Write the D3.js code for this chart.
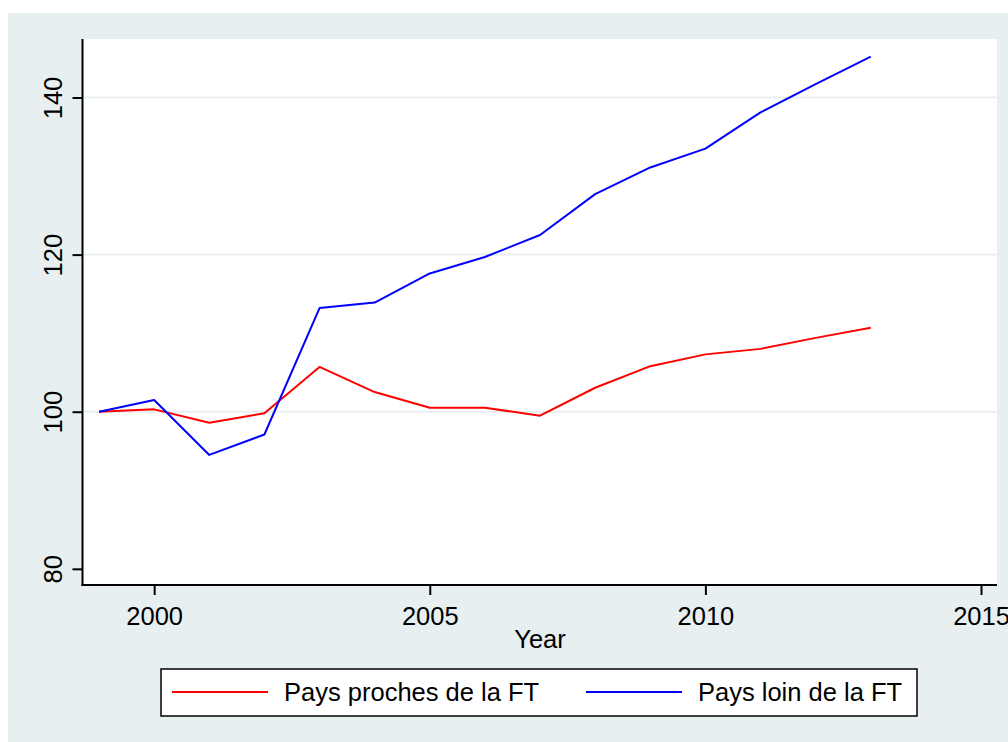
<!DOCTYPE html>
<html lang="fr">
<head>
    <meta charset="UTF-8">
    <title>Pays proches / loin de la FT</title>
    <script src="https://d3js.org/d3.v7.min.js"></script>
    <style>
        body { margin: 0; background: #ffffff; }
        text { font-family: "Liberation Sans", Arial, sans-serif; fill: #000; }
    </style>
</head>
<body>
    <script>
        // données
        const years = [1999, 2000, 2001, 2002, 2003, 2004, 2005, 2006, 2007, 2008, 2009, 2010, 2011, 2012, 2013];
        const proches = [100, 100.3, 98.6, 99.8, 105.7, 102.5, 100.5, 100.5, 99.5, 103.05, 105.8, 107.3, 108.0, 109.4, 110.7];
        const loin = [100, 101.5, 94.5, 97.1, 113.2, 113.9, 117.6, 119.7, 122.5, 127.7, 131.1, 133.5, 138.1, 141.7, 145.2];
        const xTicks = [2000, 2005, 2010, 2015];
        const yTicks = [80, 100, 120, 140];
        const gridTicks = [100, 120, 140];
        const seriesNames = ["Pays proches de la FT", "Pays loin de la FT"];
        const seriesColors = ["#ff0000", "#0000ff"];

        const width = 1008, height = 742;
        const bg = "#e7eff1";
        const fs = 25.5;
        const plot = { left: 82.5, right: 997, top: 39, bottom: 585 };

        const svg = d3.select("body").append("svg")
            .attr("width", width)
            .attr("height", height);

        // fond du graphique
        svg.append("rect")
            .attr("x", 8).attr("y", 13)
            .attr("width", width - 8).attr("height", height - 13)
            .attr("fill", bg);

        // zone de tracé
        svg.append("rect")
            .attr("x", plot.left).attr("y", plot.top)
            .attr("width", plot.right - plot.left).attr("height", plot.bottom - plot.top)
            .attr("fill", "#ffffff");

        const x = d3.scaleLinear()
            .domain([1998.7, 2015.29])
            .range([plot.left, plot.right]);

        const y = d3.scaleLinear()
            .domain([77.94, 147.45])
            .range([plot.bottom, plot.top]);

        // lignes de grille
        svg.append("g")
            .selectAll("line")
            .data(gridTicks)
            .join("line")
            .attr("x1", plot.left).attr("x2", plot.right)
            .attr("y1", d => y(d)).attr("y2", d => y(d))
            .attr("stroke", bg)
            .attr("stroke-width", 2);

        // axe des x
        const gx = svg.append("g")
            .attr("transform", `translate(0,${plot.bottom})`)
            .call(d3.axisBottom(x).tickValues(xTicks).tickFormat(d3.format("d")).tickSize(10).tickPadding(12).tickSizeOuter(0));
        gx.select(".domain").attr("stroke", "#000").attr("stroke-width", 2)
            .attr("d", `M${plot.left - 1},0H${plot.right}`);
        gx.selectAll(".tick line").attr("stroke", "#000").attr("stroke-width", 2);
        gx.selectAll(".tick text").attr("font-size", fs).attr("font-family", "Liberation Sans, Arial, sans-serif").attr("fill", "#000");

        // axe des y
        const gy = svg.append("g")
            .attr("transform", `translate(${plot.left},0)`)
            .call(d3.axisLeft(y).tickValues(yTicks).tickSize(10).tickSizeOuter(0));
        gy.select(".domain").attr("stroke", "#000").attr("stroke-width", 2)
            .attr("d", `M0,${plot.top}V${plot.bottom + 1}`);
        gy.selectAll(".tick line").attr("stroke", "#000").attr("stroke-width", 2);
        gy.selectAll(".tick text")
            .attr("font-size", fs)
            .attr("font-family", "Liberation Sans, Arial, sans-serif")
            .attr("fill", "#000")
            .attr("x", null).attr("dy", null)
            .attr("text-anchor", "middle")
            .attr("transform", "translate(-21,0) rotate(-90)");

        // titre de l'axe x
        svg.append("text")
            .attr("x", 540).attr("y", 648)
            .attr("text-anchor", "middle")
            .attr("font-size", fs)
            .text("Year");

        // courbes
        const line = d3.line()
            .x((d, i) => x(years[i]))
            .y(d => y(d));

        [proches, loin].forEach((s, k) => {
            svg.append("path")
                .datum(s)
                .attr("fill", "none")
                .attr("stroke", seriesColors[k])
                .attr("stroke-width", 2)
                .attr("stroke-linejoin", "round")
                .attr("d", line);
        });

        // légende
        const leg = svg.append("g");
        leg.append("rect")
            .attr("x", 161).attr("y", 669)
            .attr("width", 756).attr("height", 47)
            .attr("fill", "#ffffff")
            .attr("stroke", "#000")
            .attr("stroke-width", 1.5);
        const legX = [172, 586];
        seriesNames.forEach((name, k) => {
            leg.append("line")
                .attr("x1", legX[k]).attr("x2", legX[k] + 96)
                .attr("y1", 692).attr("y2", 692)
                .attr("stroke", seriesColors[k])
                .attr("stroke-width", 2);
            leg.append("text")
                .attr("x", legX[k] + 112).attr("y", 701)
                .attr("font-size", fs)
                .text(name);
        });
    </script>
</body>
</html>
